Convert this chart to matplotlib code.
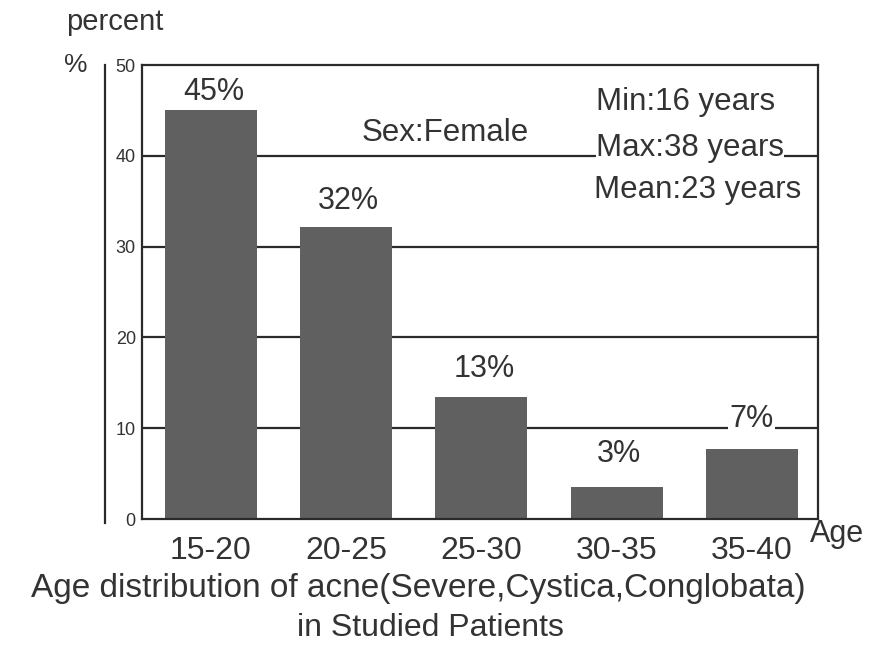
import numpy as np
import matplotlib
matplotlib.use("Agg")
from matplotlib import pyplot as plt
from matplotlib.lines import Line2D

plt.rcParams['font.family'] = ['Liberation Sans', 'DejaVu Sans']

# data
age_groups = ['15-20', '20-25', '25-30', '30-35', '35-40']
percent = [45, 32.2, 13.4, 3.5, 7.7]
bar_labels = ['45%', '32%', '13%', '3%', '7%']
grid_levels = [10, 20, 30, 40]
y_ticks = [0, 10, 20, 30, 40, 50]

ink = '#333333'
line_col = '#2a2a2a'
bar_col = '#606060'

fig = plt.figure(figsize=(8.72, 6.53), dpi=100)
ax = fig.add_axes([142/872, 1-519/653, 676/872, 454/653])

x = np.arange(len(age_groups))
for g in grid_levels:
	ax.axhline(g, color=line_col, lw=1.6, zorder=1)
ax.bar(x, percent, width=0.68, color=bar_col, zorder=2)

ax.set_xlim(-0.51, 4.49)
ax.set_ylim(0, 50)

# value labels above bars (baseline offset above bar top)
lift = [1.1, 1.9, 2.2, 2.8, 0]
for i in range(len(x)):
	if i == 4:
		# this one sits on the 10% line and breaks it
		ax.text(x[i], grid_levels[0] + 1.0, bar_labels[i], ha='center', va='center',
			fontsize=22, color=ink, zorder=3,
			bbox=dict(facecolor='white', edgecolor='none', pad=1))
	else:
		ax.text(x[i] + 0.02, percent[i] + lift[i], bar_labels[i], ha='center',
			va='baseline', fontsize=22, color=ink, zorder=3)

ax.text(0.325, 0.850, 'Sex:Female', transform=ax.transAxes, ha='left', va='center',
	fontsize=22.5, color=ink, zorder=3)
ax.text(0.672, 0.918, 'Min:16 years', transform=ax.transAxes, ha='left', va='center',
	fontsize=22.5, color=ink, zorder=3)
ax.text(0.672, 0.817, 'Max:38 years', transform=ax.transAxes, ha='left', va='center',
	fontsize=22.5, color=ink, zorder=3, bbox=dict(facecolor='white', edgecolor='none', pad=0))
ax.text(0.668, 0.725, 'Mean:23 years', transform=ax.transAxes, ha='left', va='center',
	fontsize=22.5, color=ink, zorder=3)

# frame
for s in ['top', 'right', 'bottom']:
	ax.spines[s].set_color(line_col)
	ax.spines[s].set_linewidth(1.6)
ax.spines['left'].set_position(('outward', 26.5))
ax.spines['left'].set_color(line_col)
ax.spines['left'].set_linewidth(1.6)
ax.spines['left'].set_bounds(-0.4, 50)
ax.add_line(Line2D([0, 0], [0, 1], transform=ax.transAxes, color=line_col, lw=1.6,
	clip_on=False))

ax.set_yticks(y_ticks)
ax.tick_params(axis='y', length=0, pad=-22, labelsize=13, labelcolor=ink)
for lab in ax.get_yticklabels():
	lab.set_horizontalalignment('right')
ax.set_xticks(x)
ax.set_xticklabels(age_groups)
ax.tick_params(axis='x', length=0, pad=12, labelsize=23, labelcolor=ink)

fig.text(66/872, 1-30/653, 'percent', fontsize=21, color=ink, va='baseline')
fig.text(64/872, 1-72/653, '%', fontsize=19, color=ink, va='baseline')
fig.text(810/872, 1-542/653, 'Age', fontsize=22, color=ink, va='baseline')
fig.text(418/872, 1-597/653, 'Age distribution of acne(Severe,Cystica,Conglobata)',
	fontsize=24, color=ink, ha='center', va='baseline')
fig.text(430/872, 1-636/653, 'in Studied Patients', fontsize=23, color=ink,
	ha='center', va='baseline')

fig.savefig('out.png', dpi=100)
